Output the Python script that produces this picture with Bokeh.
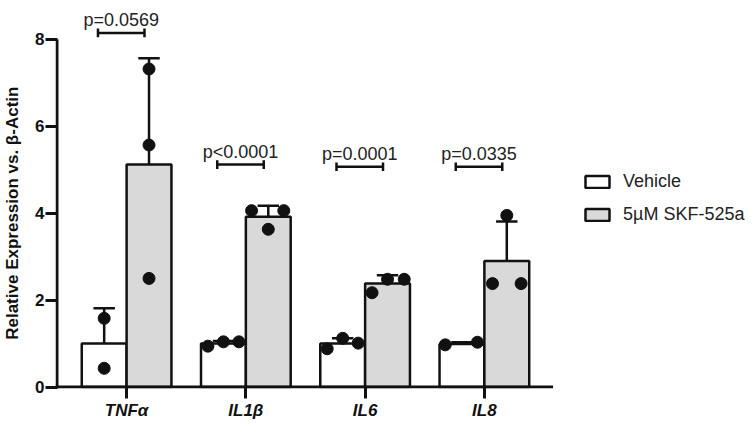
from bokeh.plotting import figure
from bokeh.models import FixedTicker, Legend, LegendItem, Range1d
from bokeh.embed import file_html
from bokeh.resources import INLINE
from bokeh.core.properties import value

# ---------------- data ----------------
categories = ["TNFα", "IL1β", "IL6", "IL8"]
groups = ["Vehicle", "5µM SKF-525a"]
veh_mean = [1.00, 1.00, 1.00, 0.99]
veh_sd = [0.81, 0.06, 0.12, 0.04]
skf_mean = [5.12, 3.92, 2.38, 2.90]
skf_sd = [2.45, 0.25, 0.19, 0.91]
veh_points = [[1.58, 0.43], [0.94, 1.04, 1.04], [0.88, 1.12, 1.01], [0.97, 1.03]]
skf_points = [[7.32, 5.57, 2.50], [4.06, 3.63, 4.06], [2.17, 2.48, 2.48], [2.38, 3.95, 2.38]]
p_labels = ["p=0.0569", "p<0.0001", "p=0.0001", "p=0.0335"]
p_bracket_y = [8.15, 5.12, 5.07, 5.07]
y_ticks = [0, 2, 4, 6, 8]

# ---------------- layout / style ----------------
BAR_W = 0.376
VEH_OFF, SKF_OFF = -0.188, 0.188
veh_spread = [[0, 0], [-0.13, 0, 0.13], [-0.13, 0, 0.13], [-0.14, 0.13]]
skf_spread = [[0, 0, 0], [-0.14, 0, 0.13], [-0.13, 0, 0.14], [-0.12, 0, 0.12]]
CAP = 0.09
FONT = "Liberation Sans"
GRAY = "#d9d9d9"
INK = "#111111"

X0, X1 = -0.5962, 5.2734
Y0, Y1 = -0.0345, 8.897
PX_X = 119.6
PX_Y = 43.44

p = figure(width=755, height=427, x_range=Range1d(X0, X1), y_range=Range1d(Y0, Y1),
           output_backend="svg", toolbar_location=None,
           min_border_left=53, min_border_right=0, min_border_top=0, min_border_bottom=39)
p.outline_line_color = None
p.grid.visible = False
p.background_fill_color = "white"
p.border_fill_color = "white"

xc = list(range(len(categories)))

# bars
veh_x = [c + VEH_OFF for c in xc]
skf_x = [c + SKF_OFF for c in xc]
r_veh = p.vbar(x=veh_x, top=veh_mean, bottom=0, width=BAR_W, fill_color="white",
               line_color=INK, line_width=2.5)
r_skf = p.vbar(x=skf_x, top=skf_mean, bottom=0, width=BAR_W, fill_color=GRAY,
               line_color=INK, line_width=2.5)

# error bars (mean + SD)
for bx, m, s in ((veh_x, veh_mean, veh_sd), (skf_x, skf_mean, skf_sd)):
    tops = [a + b for a, b in zip(m, s)]
    p.segment(x0=bx, y0=m, x1=bx, y1=tops, line_color=INK, line_width=2.5)
    p.segment(x0=[x - CAP for x in bx], y0=tops, x1=[x + CAP for x in bx], y1=tops,
              line_color=INK, line_width=2.5)

# individual points
px, py = [], []
for bx, pts, spr in ((veh_x, veh_points, veh_spread), (skf_x, skf_points, skf_spread)):
    for x, vals, offs in zip(bx, pts, spr):
        for v, o in zip(vals, offs):
            px.append(x + o)
            py.append(v)
p.scatter(px, py, size=12, marker="circle", fill_color=INK, line_color=INK)

# significance brackets
BL, BR, BT = -0.24, 0.15, 0.1
bl = [c + BL for c in xc]
br = [c + BR for c in xc]
p.segment(x0=bl, y0=p_bracket_y, x1=br, y1=p_bracket_y, line_color=INK, line_width=2.5)
p.segment(x0=bl, y0=[b - BT for b in p_bracket_y], x1=bl, y1=[b + BT for b in p_bracket_y],
          line_color=INK, line_width=2.5)
p.segment(x0=br, y0=[b - BT for b in p_bracket_y], x1=br, y1=[b + BT for b in p_bracket_y],
          line_color=INK, line_width=2.5)
p.text(x=[(a + b) / 2 for a, b in zip(bl, br)], y=[b + 0.29 for b in p_bracket_y], text=p_labels,
       text_align="center", text_baseline="alphabetic", text_font=value(FONT),
       text_font_size="18px", text_color="#222222")

# axis spines (drawn so the y spine stops at the last tick)
spine_x = X0 + 1.5 / PX_X
axis_end = len(categories) - 1 + 0.576
p.segment(x0=[spine_x], y0=[Y0], x1=[spine_x], y1=[max(y_ticks)], line_color=INK, line_width=3)
p.segment(x0=[X0], y0=[0], x1=[axis_end], y1=[0], line_color=INK, line_width=3)

# axes
ya = p.yaxis[0]
ya.ticker = FixedTicker(ticks=y_ticks, minor_ticks=[])
ya.axis_line_color = None
ya.major_tick_out = 10
ya.major_tick_in = 2
ya.major_tick_line_width = 3
ya.major_tick_line_color = INK
ya.minor_tick_line_color = None
ya.major_label_text_font = FONT
ya.major_label_text_font_size = "17px"
ya.major_label_text_font_style = "bold"
ya.major_label_text_color = INK
ya.major_label_standoff = 1
ya.axis_label = "Relative Expression vs. β-Actin\u2003\u2003\u2009"
ya.axis_label_text_font = FONT
ya.axis_label_text_font_size = "17px"
ya.axis_label_text_font_style = "bold"
ya.axis_label_text_color = INK
ya.axis_label_standoff = 10

xa = p.xaxis[0]
xa.ticker = FixedTicker(ticks=xc, minor_ticks=[])
xa.major_label_overrides = {i: c for i, c in enumerate(categories)}
xa.axis_line_color = None
xa.major_tick_out = 10
xa.major_tick_in = 2
xa.major_tick_line_width = 3
xa.major_tick_line_color = INK
xa.minor_tick_line_color = None
xa.major_label_text_font = FONT
xa.major_label_text_font_size = "17px"
xa.major_label_text_font_style = "bold italic"
xa.major_label_text_color = INK
xa.major_label_standoff = 2

legend = Legend(items=[LegendItem(label=groups[0], renderers=[r_veh]),
                       LegendItem(label=groups[1], renderers=[r_skf])],
                location=(527, 163), orientation="vertical",
                glyph_width=30, glyph_height=15, label_height=15, spacing=12,
                label_standoff=11, padding=0, margin=0,
                border_line_color=None, background_fill_alpha=0,
                label_text_font=FONT, label_text_font_size="18px", label_text_color="#222222")
p.add_layout(legend)

open("out.html", "w").write(file_html(p, INLINE))
